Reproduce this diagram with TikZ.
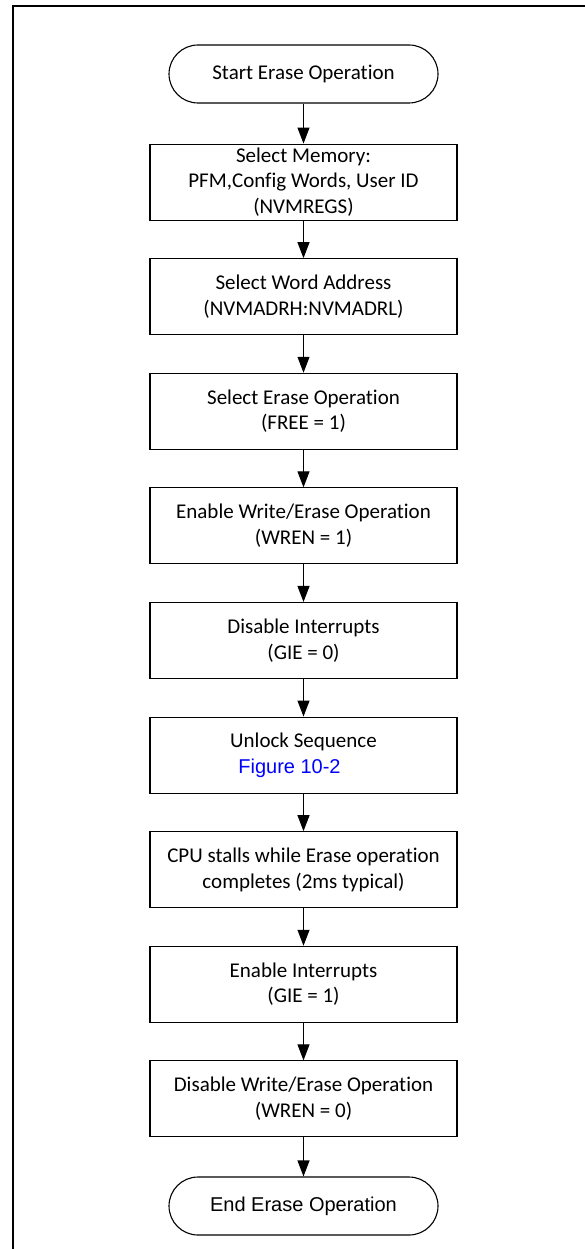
\documentclass[tikz,border=0pt]{standalone}
\usepackage{fontspec}
\setmainfont{Carlito}[Ligatures=NoCommon]
\newfontfamily\arialfont{Liberation Sans}
\usepackage{xcolor}
\usetikzlibrary{arrows.meta, positioning}
\definecolor{LinkBlue}{HTML}{0000FF}

\begin{document}
\begin{tikzpicture}[x=1pt, y=1pt, node distance=37.5pt, align=center,
  stepbox/.style={draw, line width=1.1pt, minimum width=307pt, minimum height=76pt, inner sep=1pt, font=\fontsize{21}{25.5}\selectfont},
  term/.style={draw, line width=1.1pt, rounded corners=29pt, minimum width=269pt, minimum height=58pt, font=\fontsize{21}{25.5}\selectfont},
  flow/.style={-{Triangle[length=16pt, width=12pt]}, line width=1.1pt}]
  \useasboundingbox (0,0) rectangle (585,-1249);
  % frame
  \draw[line width=2.6pt] (585,-6) -| (13,-1249);

  \node (start) [term] at (303.5,-74) {Start Erase Operation};
  \node (mem) [stepbox, below=40pt of start] {Select Memory:\\PFM,Config Words, User ID\\(NVMREGS)};
  \node (addr) [stepbox, below=of mem] {Select Word Address\\(NVMADRH:NVMADRL)};
  \node (free) [stepbox, below=of addr] {Select Erase Operation\\(FREE = 1)};
  \node (wren) [stepbox, below=of free] {Enable Write/Erase Operation\\(WREN = 1)};
  \node (gieoff) [stepbox, below=of wren] {Disable Interrupts\\(GIE = 0)};
  \node (unlock) [stepbox, below=of gieoff] {Unlock Sequence\\{\arialfont\fontsize{20}{25.5}\selectfont\color{LinkBlue}Figure 10-2}\hspace*{28pt}};
  \node (stall) [stepbox, below=of unlock] {CPU stalls while Erase operation\\completes (2ms typical)};
  \node (gieon) [stepbox, below=of stall] {Enable Interrupts\\(GIE = 1)};
  \node (wrenoff) [stepbox, below=of gieon] {Disable Write/Erase Operation\\(WREN = 0)};
  \node (stop) [term, below=39pt of wrenoff, font=\arialfont\fontsize{20}{25.5}\selectfont] {End Erase Operation};

  \foreach \a/\b in {start/mem, mem/addr, addr/free, free/wren, wren/gieoff, gieoff/unlock, unlock/stall, stall/gieon, gieon/wrenoff, wrenoff/stop}
    \draw[flow] (\a) -- (\b);
\end{tikzpicture}
\end{document}
